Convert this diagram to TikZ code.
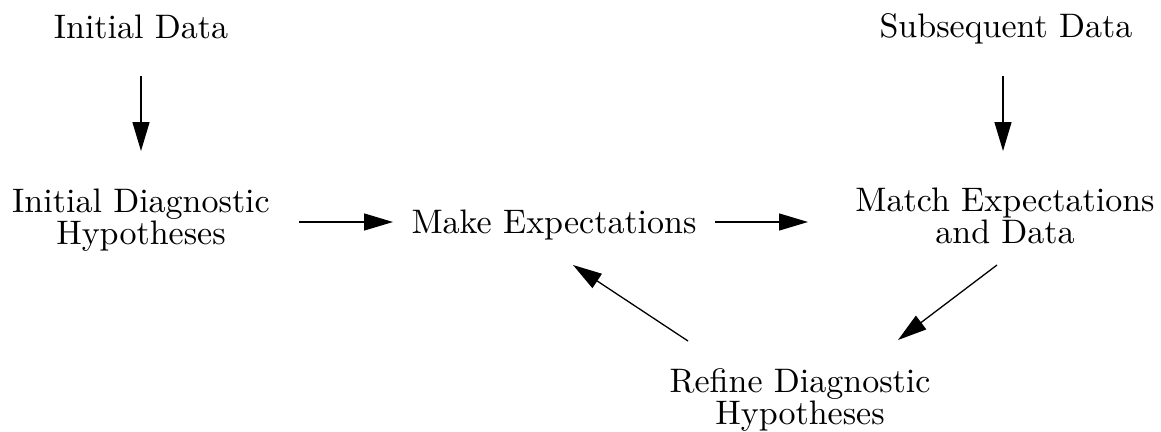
\documentclass[tikz,border=0pt]{standalone}
\usepackage{fontspec}
\setmainfont{lmroman10-regular}[Extension=.otf]
\usetikzlibrary{arrows.meta}
\begin{document}
\begin{tikzpicture}[x=1pt,y=-1pt,
  lbl/.style={anchor=base,align=center,inner sep=0pt,font=\fontsize{34}{30}\selectfont},
  arr/.style={line width=1.3pt,-{Triangle[length=29pt,width=17pt]}}]
\useasboundingbox (0,0) rectangle (1161,431);
\node[lbl] (idata) at (141,38) {Initial Data};
\node[lbl] (sdata) at (1006,37) {Subsequent Data};
\node[lbl] (idiag) at (141,244) {Initial Diagnostic\\Hypotheses};
\node[lbl] (make) at (554,233) {Make Expectations};
\node[lbl] (match) at (1005,243) {Match Expectations\\and Data};
\node[lbl] (refine) at (800,424) {Refine Diagnostic\\Hypotheses};
\draw[arr] ([shift={(0,38)}]idata.base) -- ([shift={(0,-93)}]idiag.base);
\draw[arr] ([shift={(-3,39)}]sdata.base) -- ([shift={(-2,-92)}]match.base);
\draw[arr] ([shift={(158,-22)}]idiag.base) -- ([shift={(-161,-11)}]make.base);
\draw[arr] ([shift={(161,-11)}]make.base) -- ([shift={(-197,-21)}]match.base);
\draw[arr] ([shift={(-112,-83)}]refine.base) -- ([shift={(19,32)}]make.base);
\draw[arr] ([shift={(-8,22)}]match.base) -- ([shift={(98,-84)}]refine.base);
\end{tikzpicture}
\end{document}
